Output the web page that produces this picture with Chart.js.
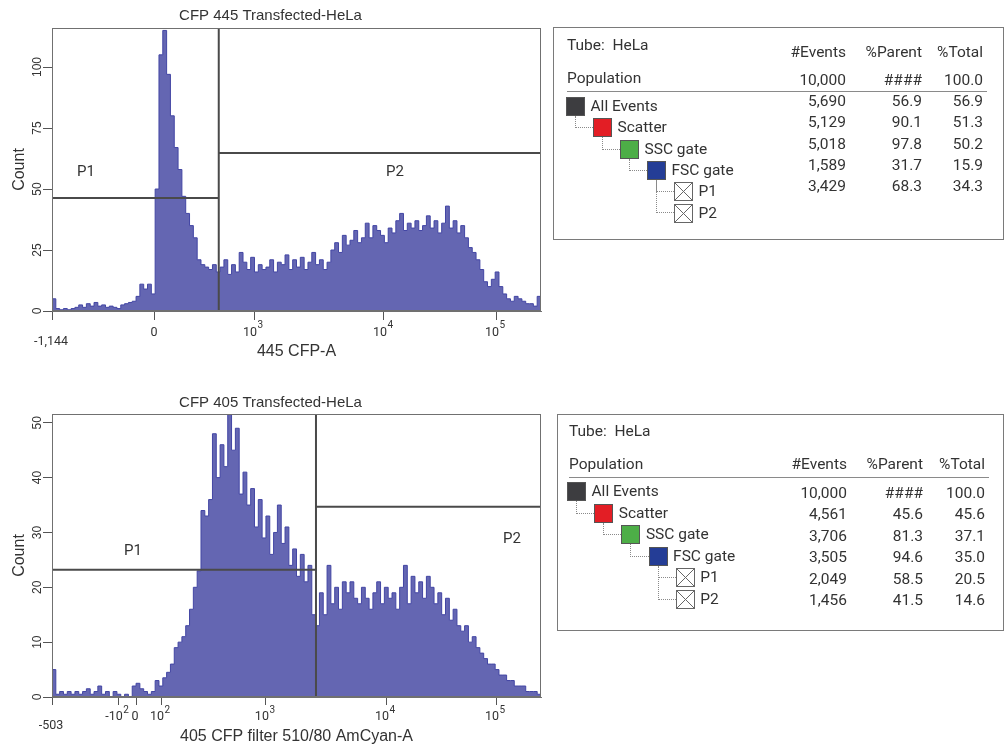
<!DOCTYPE html>
<html>
<head>
<meta charset="utf-8">
<script src="https://cdn.jsdelivr.net/npm/chart.js@4.4.1/dist/chart.umd.min.js"></script>
<style>
html,body{margin:0;padding:0;background:#fff;}
body{width:1008px;height:746px;position:relative;overflow:hidden;font-family:Roboto,'Noto Sans',sans-serif;color:#333;}
canvas{position:absolute;left:0;}
#c445{top:0;}
#c405{top:390px;}
.t{position:absolute;font-size:15.5px;line-height:18px;white-space:nowrap;}
.r{text-align:right;width:90px;}
.box{position:absolute;border:1px solid #7a7a7a;box-sizing:border-box;}
.rule{position:absolute;height:0;border-top:1px solid #8a8a8a;}
.sq{position:absolute;width:19px;height:19px;box-sizing:border-box;border:1px solid #555;}
.lnk{position:absolute;border-left:1px dotted #8a8a8a;border-bottom:1px dotted #8a8a8a;box-sizing:border-box;}
</style>
</head>
<body>
<canvas id="c445" width="593" height="364"></canvas>
<canvas id="c405" width="593" height="356"></canvas>
<script>
// ===== Dados =====
const BIN = 2; // canais por barra (eixo de exibição 0–256)
const counts445 = [5,1,0.5,1,0.5,1,1.5,2.5,1.5,3, 2,3.5,2,2.5,1.5,2,1.5,1,2.5,3,
  3.5,4,6,11,9,11,7,50,105,115, 97,80,67,58,47,40,35,30,21,19,
  18,17,19,16,18,21,15,19,16,24, 20,17,22,16,19,17,18,21,16,20,
  19,23,17,21,18,22,17,20,24,19, 21,17,20,25,28,24,31,27,29,33,
  28,30,36,30,35,33,31,28,34,32, 37,40,33,36,34,37,33,35,39,34,
  37,32,36,43,34,37,32,35,30,26, 24,21,17,12,10,13,16,10,7,5,
  4,6,5,4,3,3,2,6];
const counts405 = [5,0.5,1,0.5,1,0.5,1,0.5,1,1.5, 0.5,1,2,0.5,1,0,1,0.5,0,0.5,
  0,2,2.5,1.5,1,0.5,1,3,2,3.5, 4.5,6,9,10,11,13,16,20,23,34,
  33,36,48,40,46,42,52,45,49,37, 41,35,38,31,36,29,33,26,30,35,
  28,31,24,27,22,26,21,24,15,13, 19,15,24,17,20,16,21,19,21,18,
  17,20,18,16,19,21,17,20,18,19, 16,20,24,17,22,19,21,18,22,20,
  17,19,15,18,14,16,13,12,13,10, 11,9,8,7,6,6,5,4,4,3,
  3,2,2,2,1,1,1,0.5];

const xTicks445 = [0, 53.9, 105.8, 173.8, 232.5];
const xLabels445 = ['-1,144', '0', '10^3', '10^4', '10^5'];
const xTicks405 = [0, 34.6, 44.0, 57.1, 112.0, 174.9, 232.5];
const xLabels405 = ['-503', '-10^2', '0', '10^2', '10^3', '10^4', '10^5'];
const yTicks445 = [0, 25, 50, 75, 100];
const yTicks405 = [0, 10, 20, 30, 40, 50];
const yMax445 = 116, yMax405 = 51.6;
const gate445 = [87.3, 46.3, 64.8]; // [divisa P1|P2, nível P1, nível P2]
const gate405 = [138.2, 23.2, 34.7];

const popNames = ['All Events', 'Scatter', 'SSC gate', 'FSC gate', 'P1', 'P2'];
const popLevels = [0, 1, 2, 3, 4, 4];
const popColors = ['#3d3d40', '#e31e25', '#4dae47', '#243d96', null, null];
const events445 = ['10,000', '5,690', '5,129', '5,018', '1,589', '3,429'];
const parent445 = ['####', '56.9', '90.1', '97.8', '31.7', '68.3'];
const total445 = ['100.0', '56.9', '51.3', '50.2', '15.9', '34.3'];
const events405 = ['10,000', '4,561', '3,706', '3,505', '2,049', '1,456'];
const parent405 = ['####', '45.6', '81.3', '94.6', '58.5', '41.5'];
const total405 = ['100.0', '45.6', '37.1', '35.0', '20.5', '14.6'];

// ===== Moldura, rótulos das regiões e rótulos do eixo x (com expoente) =====
const moldura = {
  id: 'moldura',
  afterDatasetsDraw(chart, args, opts){
    const {ctx, chartArea: a, scales: {x, y}} = chart;
    ctx.save();
    ctx.strokeStyle = '#707070'; ctx.lineWidth = 1;
    ctx.strokeRect(a.left + 0.5, a.top + 0.5, a.right - a.left - 1, a.bottom - a.top - 1);
    ctx.font = '15px Roboto'; ctx.fillStyle = '#333';
    ctx.textAlign = 'center'; ctx.textBaseline = 'middle';
    (opts.labels || []).forEach(l => ctx.fillText(l.text, x.getPixelForValue(l.x), y.getPixelForValue(l.y)));
    ctx.restore();
  },
  afterDraw(chart, args, opts){
    const {ctx, chartArea: a, scales: {x}} = chart;
    ctx.save();
    ctx.fillStyle = '#333'; ctx.textBaseline = 'middle'; ctx.textAlign = 'left';
    opts.ticks.forEach((v, i) => {
      const [base, exp] = opts.text[i].split('^');
      const cx = x.getPixelForValue(v) - 1;
      const cy = a.bottom + (i === 0 ? opts.dyEdge : opts.dy);
      ctx.font = '12.5px Roboto';
      const wb = ctx.measureText(base).width;
      let we = 0;
      if (exp){ ctx.font = '10px Roboto'; we = ctx.measureText(exp).width + 0.5; }
      const x0 = cx - (wb + we) / 2;
      ctx.font = '12.5px Roboto'; ctx.fillText(base, x0, cy);
      if (exp){ ctx.font = '10px Roboto'; ctx.fillText(exp, x0 + wb + 0.5, cy - 7); }
    });
    ctx.restore();
  }
};

function histograma(id, o){
  const xmax = o.counts.length * BIN;
  const pts = o.counts.map((c, i) => ({x: i * BIN, y: c}));
  pts.push({x: xmax, y: o.counts[o.counts.length - 1]});
  const [corte, h1, h2] = o.gate;
  const linha = d => ({data: d, borderColor: '#4a4a4a', borderWidth: 2, pointRadius: 0, fill: false, order: 0});
  return new Chart(document.getElementById(id), {
    type: 'line',
    data: {datasets: [
      {data: pts, stepped: true, fill: 'origin', backgroundColor: '#6466b2', borderColor: '#4346a4',
       borderWidth: 1, pointRadius: 0, order: 1},
      linha([{x: corte, y: 0}, {x: corte, y: o.yMax}]),
      linha([{x: 0, y: h1}, {x: corte, y: h1}]),
      linha([{x: corte, y: h2}, {x: xmax, y: h2}])
    ]},
    options: {
      responsive: false, animation: false,
      layout: {padding: {left: 0, right: 52, top: 0, bottom: 0}},
      plugins: {
        legend: {display: false}, tooltip: {enabled: false},
        title: {display: true, text: o.title, color: '#333', font: {size: 15, weight: 'normal'}, padding: o.titlePad},
        moldura: {labels: o.labels, ticks: o.xTicks, text: o.xLabels, dy: o.dy, dyEdge: o.dyEdge}
      },
      scales: {
        x: {type: 'linear', min: 0, max: xmax,
          afterBuildTicks: s => { s.ticks = o.xTicks.map(v => ({value: v})); },
          afterFit: s => { s.height = o.xh; },
          ticks: {display: false},
          grid: {drawOnChartArea: false, tickLength: o.xTl, color: '#555'},
          border: {color: '#707070'},
          title: {display: true, text: o.xTitle, color: '#333', font: {size: 16}, padding: {top: 0, bottom: o.xTitlePad}}
        },
        y: {type: 'linear', min: 0, max: o.yMax,
          afterBuildTicks: s => { s.ticks = o.yTicks.map(v => ({value: v})); },
          afterFit: s => { s.width = 52; },
          ticks: {minRotation: 90, maxRotation: 90, crossAlign: 'center', padding: o.yPad, color: '#333', font: {size: 12}},
          grid: {drawOnChartArea: false, tickLength: 9, color: '#555'},
          border: {color: '#707070'},
          title: {display: true, text: 'Count', color: '#333', font: {size: 16}, padding: {top: 10, bottom: 0}}
        }
      }
    },
    plugins: [moldura]
  });
}

histograma('c445', {counts: counts445, gate: gate445, yMax: yMax445, yTicks: yTicks445,
  xTicks: xTicks445, xLabels: xLabels445, title: 'CFP 445 Transfected-HeLa', xTitle: '445 CFP-A',
  titlePad: {top: 7, bottom: 3}, xh: 53, xTl: 9, dy: 21.5, dyEdge: 30.5, xTitlePad: 3, yPad: -4.6,
  labels: [{text: 'P1', x: 17.8, y: 57}, {text: 'P2', x: 179.6, y: 57}]});

histograma('c405', {counts: counts405, gate: gate405, yMax: yMax405, yTicks: yTicks405,
  xTicks: xTicks405, xLabels: xLabels405, title: 'CFP 405 Transfected-HeLa', xTitle: '405 CFP filter 510/80 AmCyan-A',
  titlePad: {top: 4, bottom: 2}, xh: 49, xTl: 8, dy: 20, dyEdge: 29, xTitlePad: 0, yPad: -1.2,
  labels: [{text: 'P1', x: 42.4, y: 26.6}, {text: 'P2', x: 240.8, y: 28.8}]});

// ===== Tabelas de hierarquia =====
function el(cls, css, html){
  const d = document.createElement('div');
  d.className = cls; Object.assign(d.style, css);
  if (html != null) d.innerHTML = html;
  document.body.appendChild(d);
  return d;
}
const px = v => v + 'px';
function txt(s, x, cy, right){
  if (right) return el('t r', {left: px(x - 90), top: px(cy - 9)}, s);
  return el('t', {left: px(x), top: px(cy - 9)}, s);
}

function tabela(g, events, parent, total){
  el('box', {left: px(g.box[0]), top: px(g.box[1]), width: px(g.box[2]), height: px(g.box[3])});
  txt('Tube:&nbsp; HeLa', g.textX, g.tubeY);
  txt('Population', g.textX, g.popY);
  ['#Events', '%Parent', '%Total'].forEach((h, j) => txt(h, g.cols[j], g.headY, true));
  el('rule', {left: px(g.textX), top: px(g.ruleY), width: px(g.ruleW)});
  events.forEach((v, k) => {
    const cy = g.numY + g.numStep * k;
    txt(v, g.cols[0], cy, true); txt(parent[k], g.cols[1], cy, true); txt(total[k], g.cols[2], cy, true);
  });
  const pos = [];
  popNames.forEach((nome, k) => {
    const lv = popLevels[k];
    const x = g.sqX + g.indent * lv, y = g.sqY + g.rowStep * k;
    pos.push([x, y]);
    if (k > 0){
      let p = k - 1; while (popLevels[p] !== lv - 1) p--;
      const [px0, py0] = pos[p];
      el('lnk', {left: px(px0 + 9), top: px(py0 + 19), width: px(x - px0 - 9), height: px(y + 10 - py0 - 19)});
    }
    if (popColors[k]) el('sq', {left: px(x), top: px(y), background: popColors[k]});
    else el('sq', {left: px(x), top: px(y), background: '#fff', border: 'none'},
      '<svg width="19" height="19"><rect x="0.5" y="0.5" width="18" height="18" fill="#fff" stroke="#666"/>' +
      '<path d="M1 1L18 18M18 1L1 18" stroke="#666" stroke-width="1"/></svg>');
    txt(nome, x + 24.5, y + 9);
  });
}

tabela({box: [553, 27, 451, 213], textX: 567, tubeY: 45, popY: 78, headY: 52, cols: [846, 922, 983],
  ruleY: 91, ruleW: 420, numY: 80, numStep: 21.2, sqX: 566, sqY: 97, indent: 27, rowStep: 21.3},
  events445, parent445, total445);
tabela({box: [557, 414, 447, 217], textX: 569, tubeY: 431, popY: 464, headY: 464, cols: [847, 923, 985],
  ruleY: 477, ruleW: 420, numY: 493, numStep: 21.4, sqX: 567, sqY: 482.3, indent: 27.2, rowStep: 21.5},
  events405, parent405, total405);
</script>
</body>
</html>
